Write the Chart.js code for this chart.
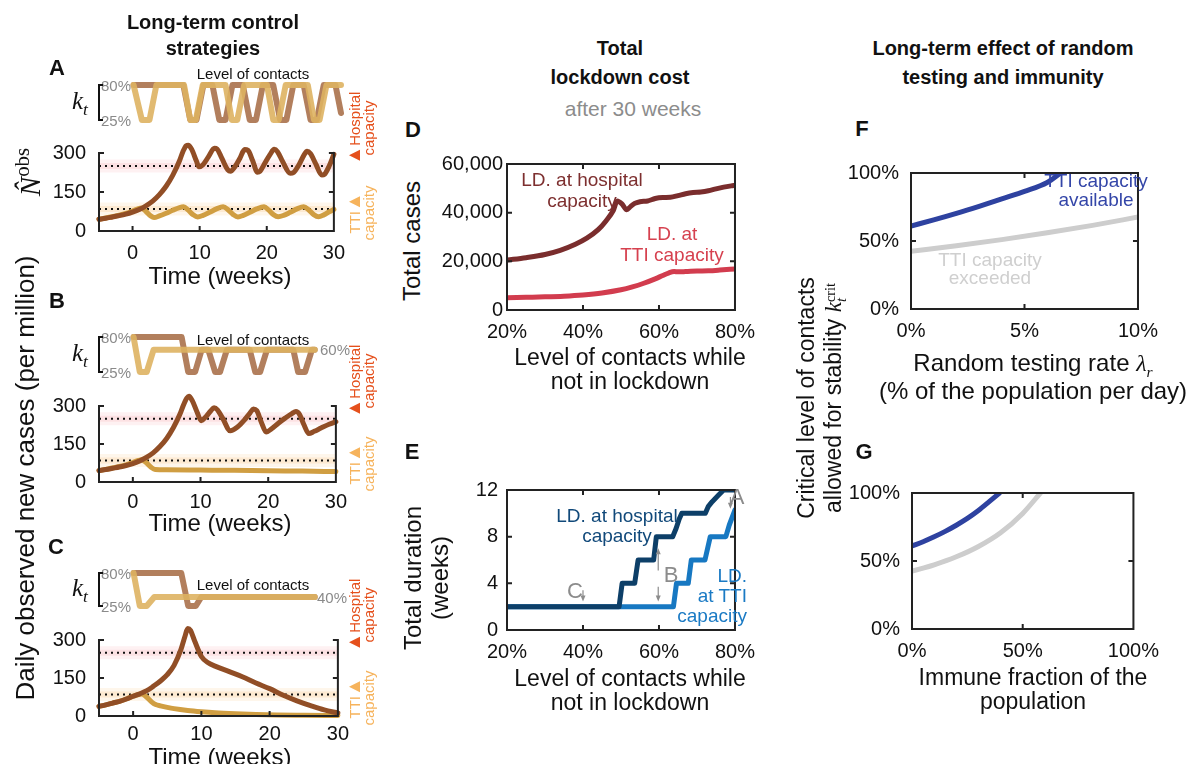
<!DOCTYPE html>
<html>
<head>
<meta charset="utf-8">
<title>Lockdown strategies</title>
<script src="https://cdn.jsdelivr.net/npm/chart.js@4.4.1/dist/chart.umd.min.js"></script>
<style>
  html, body { margin: 0; padding: 0; background: #fff; }
  body { position: relative; width: 1189px; height: 764px; overflow: hidden; font-family: "Liberation Sans", Arial, sans-serif; color: #111; }
  canvas { position: absolute; }
  .lbl { position: absolute; white-space: nowrap; line-height: 1; z-index: 5; }
  .serif { font-family: "Liberation Serif", "DejaVu Serif", serif; }
  .brk { position: absolute; width: 3px; border: 2px solid #111; border-right: none; z-index: 5; }
  .tri { font-size: 1.25em; }
</style>
</head>
<body>
<script>
// ---------- data ----------
const weekTicks = [0, 10, 20, 30];
const caseTicks = [0, 150, 300];
const hospCap = 250;
const ttiCap = 85;

// A: both strategies, 80% when open
const aHospT = [-5,-4,-3,-2,-1,0,1,2,3,4,5,6,7,7.5,8,8.3,8.8,9.5,9.9,10.5,11.3,12.2,12.6,13.3,14.2,14.6,15.2,16,16.7,17.2,17.9,18.6,19,19.7,20.5,21.1,21.6,22.4,23.5,24,24.8,25.5,26,26.5,27.3,28.2,28.6,29.3,30];
const aHospN = [45,49,54,59,65,73,83,97,115,140,172,215,270,305,328,330,315,270,247,255,285,318,315,280,235,230,245,280,313,310,270,226,230,260,295,314,305,265,222,225,255,290,307,298,258,215,218,250,295];
const aTtiT = [-5,-4,-3,-2,-1,0,0.8,1.3,2,2.7,3.2,4,5,6,7,7.6,8.3,9,9.7,10.5,11.5,12.5,13.5,14.3,15,15.7,16.5,17.5,18.5,19.6,20.3,21,21.7,22.5,23.5,24.5,25.5,26.3,27,27.7,28.5,29.3,30];
const aTtiN = [45,50,55,61,68,77,85,88,75,58,52,58,68,80,90,93,80,63,54,60,72,85,93,80,63,54,60,72,85,93,80,63,55,60,72,85,93,80,63,55,62,74,83];
const aKtHospT = [0,7.2,8.2,9.1,10.1,11.4,12.4,13.3,14.3,15.8,16.8,17.7,18.7,20.2,21.2,22.1,23.1,24.6,25.6,26.5,27.5,29.2,30];
const aKtHospK = [80,80,25,25,80,80,25,25,80,80,25,25,80,80,25,25,80,80,25,25,80,80,36];
const aKtTtiT = [0,1.2,2.3,3.3,7.3,8.2,9.0,10.0,13.3,14.2,15.0,16.0,19.3,20.2,21.0,22.0,25.2,26.1,26.9,27.9,30];
const aKtTtiK = [80,25,25,80,80,25,25,80,80,25,25,80,80,25,25,80,80,25,25,80,80];

// B: 60% when open
const bHospT = [-5,-4,-3,-2,-1,0,1,2,3,4,5,6,7,7.5,8,8.3,8.8,9.5,10.1,10.8,11.5,12,12.5,13.3,14.4,15.5,16.5,17.3,17.8,18.3,19,19.7,20.5,21.5,22.5,23.5,24.1,24.6,25.3,26,26.8,27.8,29,30];
const bHospN = [45,49,54,59,65,73,83,97,115,140,172,215,270,305,332,338,320,275,242,258,280,293,285,250,202,218,245,272,288,282,235,197,210,232,252,270,278,268,225,191,200,213,228,238];
const bTtiT = [-5,-4,-3,-2,-1,0,0.8,1.3,2,2.7,3.3,5,10,15,20,25,30];
const bTtiN = [45,50,55,61,68,77,85,88,76,58,49,48,47,46,44,43,41];
const bKtHospT = [0,6.95,7.9,8.9,9.85,10.8,11.8,12.5,13.5,16.8,17.6,18.3,19.3,23.1,23.8,24.8,25.8,26.2];
const bKtHospK = [80,80,25,25,60,60,25,25,60,60,25,25,60,60,25,25,60,60];
const bKtTtiT = [0,0.9,1.9,2.9,26.2];
const bKtTtiK = [80,25,25,60,60];

// C: 40% when open
const cHospT = [-5,-4,-3,-2,-1,0,1,2,3,4,5,6,7,7.6,8,8.4,9,10,11,12,14,16,18,20,22,24,26,28,30];
const cHospN = [38,44,51,58,67,78,88,100,118,138,163,200,262,315,345,338,297,235,210,197,176,155,130,108,82,60,41,24,12];
const cTtiT = [-5,-4,-3,-2,-1,0,0.8,1.3,2,2.7,3.3,4,5,6,8,10,12,15,18,21,25,30];
const cTtiN = [38,44,51,58,67,78,85,87,74,56,45,40,34,29,22,17,13,9,6,4,3,2];
const cKtHospT = [0,6.9,7.9,9.0,9.8,26.2];
const cKtHospK = [80,80,25,25,40,40];
const cKtTtiT = [0,0.9,1.9,3.0,26.2];
const cKtTtiK = [80,25,25,40,40];

// D: total cases vs level of contacts
const contactTicks = [20, 40, 60, 80];
const totalCaseTicks = [0, 20000, 40000, 60000];
const dHospX = [20,25,30,34,38,41,44,46,48,49,50.3,51.5,52.5,53.6,55,57,59,61,63,65,67,69,71,73,75,77,79,80];
const dHospY = [20500,21500,22800,24500,27000,29500,33000,36500,41000,44800,43500,41200,42500,43800,44500,44800,45800,46200,46300,47000,47800,48300,48500,49000,49800,50500,51000,51200];
const dTtiX = [20,25,30,35,40,45,50,53,56,59,61,62.5,64,65,67,70,73,76,80];
const dTtiY = [5000,5200,5400,5700,6200,7000,8300,9500,11000,12800,14200,15200,15800,15700,15800,16000,16100,16400,16900];

// E: total lockdown duration (weeks)
const durationTicks = [0, 4, 8, 12];
const eHospX = [20,49.5,50.3,53.6,54.5,58.6,59.3,63.6,64.5,65.3,66,72.2,73,74,75.5,77,80];
const eHospY = [2,2,4,4,6,6,8,8,8.7,9.5,10,10,10.6,11,11.5,12,12];
const eTtiX = [20,63.8,64.6,67.7,68.5,72.1,73.5,77.6,78.5,80];
const eTtiY = [2,2,4,4,6,6,8,8,9,10.3];

// F: critical contact level vs random testing rate
const testTicks = [0, 5, 10];
const critTicks = [0, 50, 100];
const fAvailX = [0,1,2,3,4,5,6,6.6];
const fAvailY = [61,65.5,70.3,75.5,81,86.5,93,100];
const fExceedX = [0,2,4,6,8,10];
const fExceedY = [42.5,46.5,51,56,61.5,67.6];

// G: critical contact level vs immune fraction
const immuneTicks = [0, 50, 100];
const gAvailX = [0,5,10,15,20,25,30,35,39.5];
const gAvailY = [61,64.2,67.8,71.8,76.3,81.3,87.1,93.8,100];
const gExceedX = [0,10,20,30,40,50,58];
const gExceedY = [42.5,47.2,53.1,60.7,70.8,85,100];

// ---------- colours ----------
const HOSP = '#914e26', TTI = '#d09e42';
const KT_HOSP = 'rgba(165,105,65,0.85)', KT_TTI = 'rgba(222,178,98,0.9)';

Chart.defaults.font.family = '"Liberation Sans", Arial, sans-serif';
Chart.defaults.font.size = 20;
Chart.defaults.color = '#111';

// ---------- helpers ----------
function label(html, x, y, css = '', rot = 0, anchor = 'c') {
  const d = document.createElement('div');
  d.className = 'lbl';
  d.innerHTML = html;
  const tx = anchor === 'l' ? '0' : anchor === 'r' ? '-100%' : '-50%';
  d.style.cssText = `left:${x}px;top:${y}px;transform:translate(${tx},-50%)${rot ? ` rotate(${rot}deg)` : ''};` + css;
  document.body.appendChild(d);
}

function line(xs, ys, color, width, more = {}) {
  return Object.assign({
    data: xs.map((x, i) => ({ x, y: ys[i] })),
    borderColor: color, borderWidth: width, pointRadius: 0, fill: false, tension: 0,
    borderCapStyle: 'round', borderJoinStyle: 'round'
  }, more);
}

const fixed = arr => s => { s.ticks = arr.map(v => ({ value: v })); };

// axes box with inward ticks, drawn over the data like the original
function framePlugin(sides) {
  return {
    id: 'frame',
    afterDatasetsDraw(chart) {
      if (!sides) return;
      const { ctx, chartArea: a, scales: { x, y } } = chart;
      ctx.save();
      ctx.strokeStyle = '#222';
      ctx.lineWidth = 2;
      ctx.lineCap = 'square';
      ctx.beginPath();
      if (sides.includes('l')) { ctx.moveTo(a.left, a.top); ctx.lineTo(a.left, a.bottom); }
      if (sides.includes('b')) { ctx.moveTo(a.left, a.bottom); ctx.lineTo(a.right, a.bottom); }
      if (sides.includes('r')) { ctx.moveTo(a.right, a.top); ctx.lineTo(a.right, a.bottom); }
      if (sides.includes('t')) { ctx.moveTo(a.left, a.top); ctx.lineTo(a.right, a.top); }
      const L = 4;
      x.ticks.forEach(t => {
        const px = x.getPixelForValue(t.value);
        if (sides.includes('b')) { ctx.moveTo(px, a.bottom); ctx.lineTo(px, a.bottom - L); }
        if (sides.includes('t')) { ctx.moveTo(px, a.top); ctx.lineTo(px, a.top + L); }
      });
      y.ticks.forEach(t => {
        const py = y.getPixelForValue(t.value);
        if (sides.includes('l')) { ctx.moveTo(a.left, py); ctx.lineTo(a.left + L, py); }
        if (sides.includes('r')) { ctx.moveTo(a.right, py); ctx.lineTo(a.right - L, py); }
      });
      ctx.stroke();
      ctx.restore();
    }
  };
}

function arrowPlugin(list) {
  return {
    id: 'arrows',
    afterDatasetsDraw(chart) {
      const { ctx, scales: { x, y } } = chart;
      ctx.save();
      ctx.strokeStyle = ctx.fillStyle = '#8c8c8c';
      ctx.lineWidth = 1.2;
      list.forEach(a => {
        const px = x.getPixelForValue(a.x), y0 = y.getPixelForValue(a.from), y1 = y.getPixelForValue(a.to);
        const dir = Math.sign(y1 - y0);
        ctx.beginPath(); ctx.moveTo(px, y0); ctx.lineTo(px, y1 - dir * 3); ctx.stroke();
        ctx.beginPath(); ctx.moveTo(px, y1); ctx.lineTo(px - 2.5, y1 - dir * 6); ctx.lineTo(px + 2.5, y1 - dir * 6); ctx.closePath(); ctx.fill();
      });
      ctx.restore();
    }
  };
}

// plot area box given in page pixels; canvas grows around it for tick labels
function plot(box, datasets, xOpt, yOpt, extra = {}) {
  const padL = 70, padR = 14, padT = 14, padB = 40;
  const w = box.r - box.l + padL + padR;
  const h = box.b - box.t + padT + padB;
  const cv = document.createElement('canvas');
  cv.width = w; cv.height = h;
  cv.style.left = (box.l - padL) + 'px';
  cv.style.top = (box.t - padT) + 'px';
  cv.style.width = w + 'px';
  cv.style.height = h + 'px';
  document.body.appendChild(cv);
  const base = { type: 'linear', grid: { display: false, drawTicks: false }, border: { display: false } };
  const plugins = [framePlugin(extra.frame)];
  if (extra.arrows) plugins.push(arrowPlugin(extra.arrows));
  return new Chart(cv, {
    type: 'line',
    data: { datasets },
    options: {
      responsive: false, animation: false, devicePixelRatio: 1,
      layout: { padding: { left: 0, top: padT, right: padR, bottom: 0 } },
      plugins: { legend: { display: false }, tooltip: { enabled: false } },
      scales: {
        x: Object.assign({}, base, xOpt, { afterFit: s => { s.height = padB; } }),
        y: Object.assign({}, base, yOpt, { afterFit: s => { s.width = padL; } })
      }
    },
    plugins
  });
}

// ---------- panels A-C ----------
function casePanel(p) {
  const L = 99, R = 341;
  plot({ l: L, r: R, t: p.stripT, b: p.stripB }, [
    line(p.ktTtiT, p.ktTtiK, KT_TTI, 6, { clip: false }),
    line(p.ktHospT, p.ktHospK, KT_HOSP, 6, { clip: false })
  ], { min: -5, max: 30, ticks: { display: false } },
     { min: 25, max: 80, ticks: { display: false } });

  const capX = [-5, 30];
  plot({ l: L, r: R, t: p.mainT, b: p.mainB }, [
    line(p.hospT, p.hospN, HOSP, 5, { clip: false, cubicInterpolationMode: 'monotone' }),
    line(p.ttiT, p.ttiN, TTI, 5, { clip: false, cubicInterpolationMode: 'monotone' }),
    line(capX, [hospCap, hospCap], '#111', 2, { borderDash: [2, 4], borderCapStyle: 'butt' }),
    line(capX, [ttiCap, ttiCap], '#111', 2, { borderDash: [2, 4], borderCapStyle: 'butt' }),
    line(capX, [hospCap, hospCap], 'rgba(245,140,150,0.16)', 6, { borderCapStyle: 'butt' }),
    line(capX, [hospCap, hospCap], 'rgba(245,140,150,0.12)', 13, { borderCapStyle: 'butt' }),
    line(capX, [ttiCap, ttiCap], 'rgba(250,185,100,0.18)', 6, { borderCapStyle: 'butt' }),
    line(capX, [ttiCap, ttiCap], 'rgba(250,185,100,0.13)', 13, { borderCapStyle: 'butt' })
  ], { min: -5, max: 30, afterBuildTicks: fixed(weekTicks), ticks: { padding: p.xPad } },
     { min: 0, max: 300, afterBuildTicks: fixed(caseTicks), ticks: { padding: 13 } },
     { frame: 'lbr' });

  const sy = (p.mainB - p.mainT) / 300;
  const hy = p.mainB - hospCap * sy, ty = p.mainB - ttiCap * sy;
  label('<span class="tri">▲</span>Hospital<br>capacity', 361, hy - 29, 'font-size:15px;color:#e5501c;text-align:center;line-height:14px', -90);
  label('TTI<span class="tri">▲</span><br>capacity', 361, ty + 7, 'font-size:15px;color:#f6b35c;text-align:center;line-height:14px', -90);

  label('80%', 101, p.stripT, 'font-size:15px;color:#8a8a8a', 0, 'l');
  label('25%', 101, p.stripB, 'font-size:15px;color:#8a8a8a', 0, 'l');
  label('Level of contacts', 253, p.levelY, 'font-size:15px');
  label('<span class="serif"><i>k</i><sub style="font-size:0.7em"><i>t</i></sub></span>', 80, (p.stripT + p.stripB) / 2, 'font-size:25px');
  const b = document.createElement('div');
  b.className = 'brk';
  b.style.left = '98px'; b.style.top = (p.stripT - 1) + 'px'; b.style.height = (p.stripB - p.stripT - 2) + 'px';
  document.body.appendChild(b);
  label('Time (weeks)', 220, p.titleY, 'font-size:24px');
}

casePanel({ stripT: 85, stripB: 120, mainT: 142, mainB: 231, levelY: 73, xPad: 10, titleY: 276,
  hospT: aHospT, hospN: aHospN, ttiT: aTtiT, ttiN: aTtiN,
  ktHospT: aKtHospT, ktHospK: aKtHospK, ktTtiT: aKtTtiT, ktTtiK: aKtTtiK });
casePanel({ stripT: 337, stripB: 372, mainT: 395, mainB: 482, levelY: 339, xPad: 8, titleY: 523,
  hospT: bHospT, hospN: bHospN, ttiT: bTtiT, ttiN: bTtiN,
  ktHospT: bKtHospT, ktHospK: bKtHospK, ktTtiT: bKtTtiT, ktTtiK: bKtTtiK });
casePanel({ stripT: 573, stripB: 606, mainT: 629, mainB: 716, levelY: 584, xPad: 6, titleY: 757,
  hospT: cHospT, hospN: cHospN, ttiT: cTtiT, ttiN: cTtiN,
  ktHospT: cKtHospT, ktHospK: cKtHospK, ktTtiT: cKtTtiT, ktTtiK: cKtTtiK });

label('60%', 320, 349, 'font-size:15px;color:#8a8a8a', 0, 'l');
label('40%', 317, 597, 'font-size:15px;color:#8a8a8a', 0, 'l');
label('<span class="serif"><i>N̂</i><sup style="font-size:0.72em;font-style:normal">obs</sup></span>', 28, 172, 'font-size:29px', -90);
label('Daily observed new cases (per million)', 25, 478, 'font-size:26px', -90);

// ---------- panel D ----------
const pctX = { min: 20, max: 80, afterBuildTicks: fixed(contactTicks), ticks: { padding: 10, callback: v => v + '%' } };
plot({ l: 507, r: 751, t: 162, b: 310 }, [
  line(dHospX, dHospY, '#7a2d2d', 5, { cubicInterpolationMode: 'monotone' }),
  line(dTtiX, dTtiY, '#d23c4e', 5, { cubicInterpolationMode: 'monotone' })
], pctX,
   { min: 0, max: 60000, afterBuildTicks: fixed(totalCaseTicks), ticks: { padding: 4, callback: v => v.toLocaleString('en-US') } },
   { frame: 'lbrt' });
label('LD. at hospital<br>capacity', 582, 190, 'font-size:19px;color:#7d2f2f;text-align:center;line-height:21px');
label('LD. at<br>TTI capacity', 672, 244, 'font-size:19px;color:#d6414f;text-align:center;line-height:21px');
label('Total cases', 412, 241, 'font-size:24px', -90);
label('Level of contacts while<br>not in lockdown', 630, 369, 'font-size:23px;text-align:center;line-height:24px');

// ---------- panel E ----------
plot({ l: 507, r: 751, t: 483, b: 630 }, [
  line(eHospX, eHospY, '#0d3f68', 5),
  line(eTtiX, eTtiY, '#1778c2', 5)
], pctX,
   { min: 0, max: 12, afterBuildTicks: fixed(durationTicks), ticks: { padding: 9 } },
   { frame: 'lbrt', arrows: [
     { x: 59.8, from: 5.1, to: 7.0 }, { x: 59.8, from: 3.7, to: 2.45 },
     { x: 40.0, from: 3.4, to: 2.45 }, { x: 78.8, from: 11.4, to: 10.4 } ] });
label('LD. at hospital<br>capacity', 617, 526, 'font-size:19px;color:#11497a;text-align:center;line-height:20px');
label('LD.<br>at TTI<br>capacity', 747, 596, 'font-size:19px;color:#1a7ac4;text-align:right;line-height:20px', 0, 'r');
label('A', 737, 497, 'font-size:22px;color:#8c8c8c');
label('B', 671, 575, 'font-size:22px;color:#8c8c8c');
label('C', 575, 591, 'font-size:22px;color:#8c8c8c');
label('Total duration<br>(weeks)', 426, 578, 'font-size:24px;text-align:center;line-height:27px', -90);
label('Level of contacts while<br>not in lockdown', 630, 690, 'font-size:23px;text-align:center;line-height:24px');

// ---------- panels F, G ----------
const critY = { min: 0, max: 100, afterBuildTicks: fixed(critTicks), ticks: { padding: 12, callback: v => v + '%' } };
plot({ l: 911, r: 1154, t: 163, b: 309 }, [
  line(fAvailX, fAvailY, '#2e42a0', 5, { cubicInterpolationMode: 'monotone' }),
  line(fExceedX, fExceedY, '#cdcdcd', 5, { cubicInterpolationMode: 'monotone' })
], { min: 0, max: 10, afterBuildTicks: fixed(testTicks), ticks: { padding: 10, callback: v => v + '%' } },
   critY, { frame: 'lbrt' });
label('TTI capacity<br>available', 1096, 190, 'font-size:19px;color:#3446a8;text-align:center;line-height:19px');
label('TTI capacity<br>exceeded', 990, 269, 'font-size:19px;color:#cfcfcf;text-align:center;line-height:18px');
label('Random testing rate <span class="serif"><i>λ</i><sub style="font-size:0.65em"><i>r</i></sub></span>', 1033, 365, 'font-size:24px');
label('(% of the population per day)', 1033, 391, 'font-size:24px');

plot({ l: 912, r: 1155, t: 483, b: 629 }, [
  line(gAvailX, gAvailY, '#2e42a0', 5, { cubicInterpolationMode: 'monotone' }),
  line(gExceedX, gExceedY, '#cdcdcd', 5, { cubicInterpolationMode: 'monotone' })
], { min: 0, max: 100, afterBuildTicks: fixed(immuneTicks), ticks: { padding: 10, callback: v => v + '%' } },
   critY, { frame: 'lbrt' });
label('Immune fraction of the<br>population', 1033, 689, 'font-size:23px;text-align:center;line-height:24px');

label('Critical level of contacts<br>allowed for stability <span class="serif"><i>k</i><span style="display:inline-block;vertical-align:-0.35em;line-height:0.8;font-size:0.62em;text-align:left"><span style="display:block">crit</span><i style="display:block">t</i></span></span>',
  820, 398, 'font-size:23px;text-align:center;line-height:27px', -90);

// ---------- titles and panel letters ----------
const bold = 'font-weight:bold;font-size:20px';
label('Long-term control', 213, 22, bold);
label('strategies', 213, 48, bold);
label('Total', 620, 48, bold);
label('lockdown cost', 620, 77, bold);
label('after 30 weeks', 633, 108, 'font-size:21px;color:#8c8c8c');
label('Long-term effect of random', 1003, 48, bold);
label('testing and immunity', 1003, 77, bold);
[['A', 57, 68], ['B', 57, 301], ['C', 56, 547], ['D', 413, 130], ['E', 412, 452], ['F', 862, 129], ['G', 864, 452]]
  .forEach(([t, x, y]) => label(t, x, y, 'font-weight:bold;font-size:22px'));
</script>
</body>
</html>
